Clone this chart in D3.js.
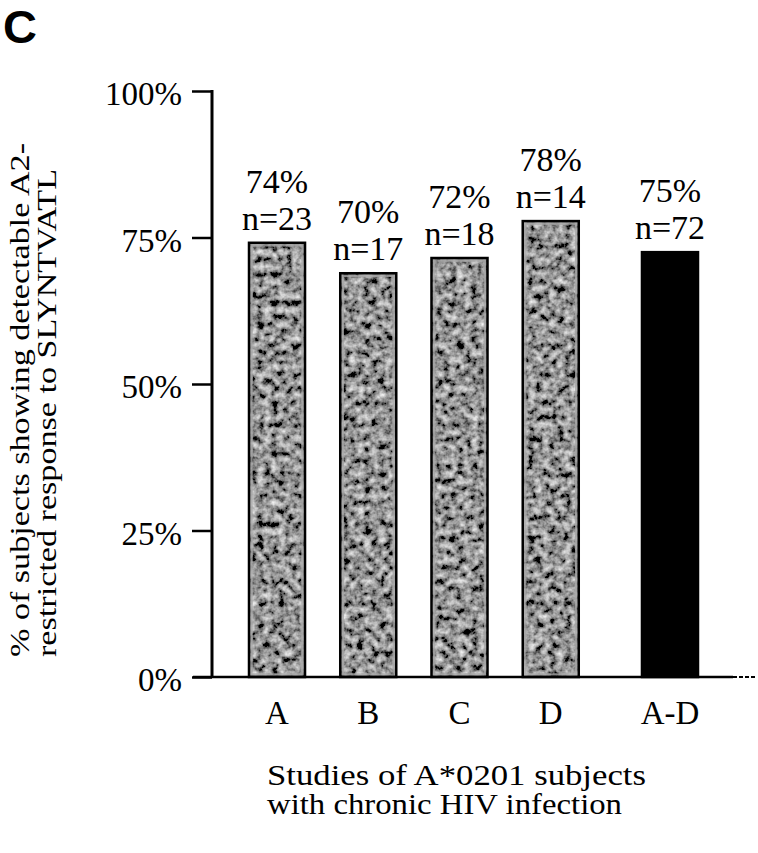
<!DOCTYPE html>
<html>
<head>
<meta charset="utf-8">
<script src="https://cdn.jsdelivr.net/npm/d3@7"></script>
<style>
  body { margin: 0; background: #fff; }
  svg { display: block; }
</style>
</head>
<body>
<svg id="chart" width="758" height="853"></svg>
<script>
// values
const categories = ["A", "B", "C", "D", "A-D"];
const responsePct = [74.1, 68.9, 71.5, 77.8, 72.5];   // bar heights as drawn
const pctLabels = ["74%", "70%", "72%", "78%", "75%"];
const nLabels = ["n=23", "n=17", "n=18", "n=14", "n=72"];
const pooled = "A-D";
const yTicks = [0, 25, 50, 75, 100];

const serif = "Liberation Serif, Times New Roman, Times, serif";

const svg = d3.select("#chart")
    .attr("font-family", serif);

// grainy grey fill like the printed halftone
const defs = svg.append("defs");
const grain = defs.append("filter")
    .attr("id", "grain")
    .attr("x", 0).attr("y", 0)
    .attr("width", 1).attr("height", 1);
grain.append("feTurbulence")
    .attr("type", "fractalNoise")
    .attr("baseFrequency", 0.14)
    .attr("numOctaves", 3)
    .attr("seed", 11)
    .attr("result", "noise");
grain.append("feColorMatrix")
    .attr("in", "noise")
    .attr("type", "matrix")
    .attr("values", "1.35 0 0 0 -0.38  1.35 0 0 0 -0.38  1.35 0 0 0 -0.38  0 0 0 0 1")
    .attr("result", "grey");
grain.append("feGaussianBlur")
    .attr("in", "grey")
    .attr("stdDeviation", 0.7)
    .attr("result", "soft");
grain.append("feComposite")
    .attr("in", "soft")
    .attr("in2", "SourceGraphic")
    .attr("operator", "in");

const y = d3.scaleLinear().domain([0, 100]).range([677, 91]);

const x = d3.scaleBand()
    .domain(categories)
    .range([249, 670])
    .paddingInner(0.386)
    .paddingOuter(0);
const pooledGap = 28;
const xPos = d => x(d) + (d === pooled ? pooledGap : 0);
const bw = x.bandwidth();

const data = categories.map((c, i) => ({
    cat: c, value: responsePct[i], pct: pctLabels[i], n: nLabels[i]
}));

// panel letter
svg.append("text")
    .attr("x", 3)
    .attr("y", 43)
    .attr("font-family", "Liberation Sans, Arial, sans-serif")
    .attr("font-weight", "bold")
    .attr("font-size", 47)
    .text("C");

// y axis
const yAxis = svg.append("g")
    .attr("transform", "translate(212,0)")
    .call(d3.axisLeft(y)
        .tickValues(yTicks)
        .tickSize(20)
        .tickPadding(10)
        .tickFormat(d => d + "%"));
yAxis.attr("font-family", serif).attr("font-size", 33);
yAxis.select(".domain").remove();
yAxis.selectAll(".tick line").attr("stroke", "#000").attr("stroke-width", 2.5);
yAxis.selectAll(".tick text")
    .attr("dy", "0.42em")
    .attr("fill", "#000");
yAxis.append("line")
    .attr("x1", 0).attr("x2", 0)
    .attr("y1", y(100) - 1).attr("y2", y(0))
    .attr("stroke", "#000")
    .attr("stroke-width", 3);

// bars
const bars = svg.append("g");
bars.selectAll("rect.fill")
    .data(data)
    .join("rect")
    .attr("class", "fill")
    .attr("x", d => xPos(d.cat))
    .attr("y", d => y(d.value))
    .attr("width", bw)
    .attr("height", d => y(0) - y(d.value))
    .attr("fill", d => d.cat === pooled ? "#000" : "#666")
    .attr("filter", d => d.cat === pooled ? null : "url(#grain)");

// light rim just inside the border of grey bars
bars.selectAll("rect.rim")
    .data(data.filter(d => d.cat !== pooled))
    .join("rect")
    .attr("class", "rim")
    .attr("x", d => xPos(d.cat) + 2.5)
    .attr("y", d => y(d.value) + 2.5)
    .attr("width", bw - 5)
    .attr("height", d => y(0) - y(d.value) - 5)
    .attr("fill", "none")
    .attr("stroke", "#a8a8a8")
    .attr("stroke-opacity", 0.8)
    .attr("stroke-width", 2.5);

bars.selectAll("rect.edge")
    .data(data)
    .join("rect")
    .attr("class", "edge")
    .attr("x", d => xPos(d.cat))
    .attr("y", d => y(d.value))
    .attr("width", bw)
    .attr("height", d => y(0) - y(d.value))
    .attr("fill", "none")
    .attr("stroke", "#000")
    .attr("stroke-width", 2.5);

// baseline
svg.append("line")
    .attr("x1", 193).attr("x2", 733)
    .attr("y1", y(0)).attr("y2", y(0))
    .attr("stroke", "#000")
    .attr("stroke-width", 2.5);
svg.append("line")
    .attr("x1", 733).attr("x2", 755)
    .attr("y1", y(0)).attr("y2", y(0))
    .attr("stroke", "#000")
    .attr("stroke-width", 2)
    .attr("stroke-dasharray", "4 2");

// value labels
const labels = svg.append("g")
    .attr("text-anchor", "middle")
    .attr("font-size", 34);
labels.selectAll("text.n")
    .data(data)
    .join("text")
    .attr("class", "n")
    .attr("x", d => xPos(d.cat) + bw / 2)
    .attr("y", d => y(d.value) - 13)
    .text(d => d.n);
labels.selectAll("text.pct")
    .data(data)
    .join("text")
    .attr("class", "pct")
    .attr("x", d => xPos(d.cat) + bw / 2)
    .attr("y", d => y(d.value) - 50)
    .text(d => d.pct);

// category labels
svg.append("g")
    .attr("text-anchor", "middle")
    .attr("font-size", 33)
    .selectAll("text")
    .data(data)
    .join("text")
    .attr("x", d => xPos(d.cat) + bw / 2)
    .attr("y", 724)
    .text(d => d.cat);

// x title
const xTitle = svg.append("text")
    .attr("x", 267)
    .attr("y", 785)
    .attr("font-size", 29);
xTitle.append("tspan").attr("x", 267)
    .attr("textLength", 379).attr("lengthAdjust", "spacingAndGlyphs")
    .text("Studies of A*0201 subjects");
xTitle.append("tspan").attr("x", 267).attr("dy", 29)
    .attr("textLength", 355).attr("lengthAdjust", "spacingAndGlyphs")
    .text("with chronic HIV infection");

// y title
const yTitle = svg.append("text")
    .attr("transform", "translate(29,657) rotate(-90)")
    .attr("font-size", 28);
yTitle.append("tspan").attr("x", 0)
    .attr("textLength", 514).attr("lengthAdjust", "spacingAndGlyphs")
    .text("% of subjects showing detectable A2-");
yTitle.append("tspan").attr("x", 0).attr("dy", 27)
    .attr("textLength", 488).attr("lengthAdjust", "spacingAndGlyphs")
    .text("restricted response to SLYNTVATL");
</script>
</body>
</html>
